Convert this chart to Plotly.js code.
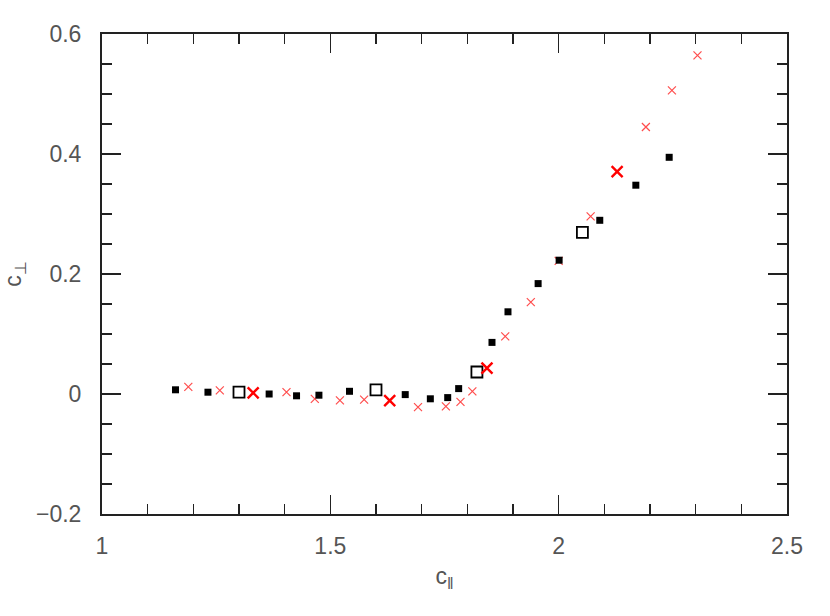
<!DOCTYPE html>
<html>
<head>
<meta charset="utf-8">
<script src="https://cdn.plot.ly/plotly-3.0.1.min.js"></script>
<style>html,body{margin:0;padding:0;background:#fff;}#chart{width:830px;height:616px;}</style>
</head>
<body>
<div id="chart"></div>
<script>
// Filled black squares
const sqX = [1.161, 1.232, 1.366, 1.426, 1.475, 1.542, 1.664, 1.719, 1.757, 1.781, 1.854, 1.889, 1.955, 2.001, 2.090, 2.169, 2.242];
const sqY = [0.007, 0.003, 0.000, -0.003, -0.002, 0.0045, -0.001, -0.008, -0.006, 0.009, 0.086, 0.137, 0.184, 0.223, 0.2895, 0.348, 0.3945];
// Small thin red crosses
const xsX = [1.189, 1.258, 1.404, 1.466, 1.521, 1.574, 1.692, 1.753, 1.785, 1.811, 1.883, 1.939, 2.000, 2.070, 2.191, 2.248, 2.304];
const xsY = [0.012, 0.006, 0.003, -0.008, -0.0105, -0.0095, -0.022, -0.0205, -0.013, 0.0045, 0.096, 0.153, 0.222, 0.296, 0.445, 0.506, 0.5645];
// Open squares
const osX = [1.300, 1.600, 1.821, 2.052];
const osY = [0.003, 0.007, 0.0367, 0.2695];
// Large bold red crosses
const bxX = [1.331, 1.630, 1.843, 2.128];
const bxY = [0.002, -0.011, 0.043, 0.3705];

const xRange = [1, 2.5];
const yRange = [-0.2, 0.6];

const traces = [
  {x: [], y: [], xaxis: 'x2', yaxis: 'y2', mode: 'markers', type: 'scatter', hoverinfo: 'skip'},
  {x: xsX, y: xsY, mode: 'markers', type: 'scatter',
   marker: {symbol: 'x-thin-open', size: 8, color: '#ff4d4d', line: {width: 1.2}}},
  {x: sqX, y: sqY, mode: 'markers', type: 'scatter',
   marker: {symbol: 'square', size: 7, color: '#000', line: {width: 0}}},
  {x: osX, y: osY, mode: 'markers', type: 'scatter',
   marker: {symbol: 'square-open', size: 11, color: '#000', line: {width: 1.8}}},
  {x: bxX, y: bxY, mode: 'markers', type: 'scatter',
   marker: {symbol: 'x-thin-open', size: 11, color: '#ff0000', line: {width: 2.4}}}
];

const tickFont = {family: 'Liberation Sans', size: 23, color: '#555'};
const minorAxis = (range, dtick, tick0) => ({
  range: range, tickmode: 'linear', tick0: tick0, dtick: dtick,
  ticks: 'inside', ticklen: 10, tickwidth: 1.5, tickcolor: '#222',
  showticklabels: false, showline: false, mirror: 'ticks',
  showgrid: false, zeroline: false, fixedrange: true
});
const layout = {
  width: 830, height: 616,
  margin: {l: 102, r: 43, t: 34, b: 102},
  showlegend: false,
  paper_bgcolor: '#fff', plot_bgcolor: '#fff',
  xaxis: {
    range: xRange, tickmode: 'linear', tick0: 1, dtick: 0.5,
    ticks: 'inside', ticklen: 19, tickwidth: 1.5, tickcolor: '#222',
    showline: true, linecolor: '#222', linewidth: 2, mirror: 'ticks',
    showgrid: false, zeroline: false, tickfont: tickFont, ticklabelstandoff: 10,
    title: {text: 'c<sub>‖</sub>', font: {family: 'Liberation Sans', size: 23, color: '#555'}, standoff: 10}
  },
  yaxis: {
    range: yRange, tickmode: 'linear', tick0: 0, dtick: 0.2,
    ticks: 'inside', ticklen: 19, tickwidth: 1.5, tickcolor: '#222',
    showline: true, linecolor: '#222', linewidth: 2, mirror: 'ticks',
    showgrid: false, zeroline: false, tickfont: tickFont, ticklabelstandoff: 14,
    title: {text: 'c<sub>⊥</sub>', font: {family: 'Liberation Sans', size: 23, color: '#555'}, standoff: 8}
  },
  xaxis2: Object.assign(minorAxis(xRange, 0.1, 1), {overlaying: 'x', anchor: 'y2'}),
  yaxis2: Object.assign(minorAxis(yRange, 0.05, 0), {overlaying: 'y', anchor: 'x2'})
};
Plotly.newPlot('chart', traces, layout, {displayModeBar: false, staticPlot: true});
</script>
</body>
</html>
